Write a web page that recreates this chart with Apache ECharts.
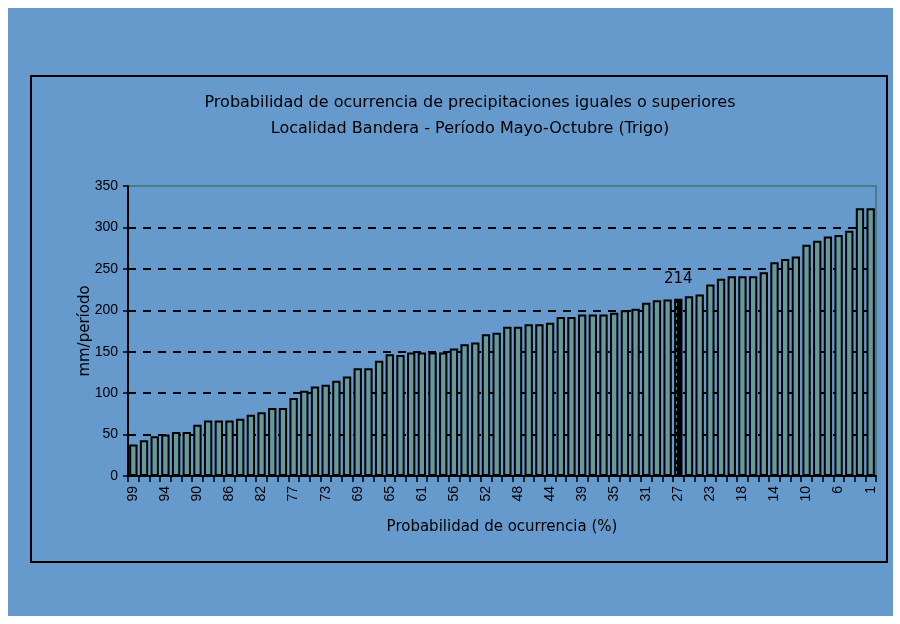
<!DOCTYPE html>
<html>
<head>
<meta charset="utf-8">
<script src="https://cdn.jsdelivr.net/npm/echarts@6/dist/echarts.min.js"></script>
<style>
  html, body { margin: 0; padding: 0; background: #ffffff; }
  #wrap { position: relative; width: 900px; height: 624px; }
  #blue { position: absolute; left: 8px; top: 8px; width: 885px; height: 608px; background: #6699cc; }
  #chart { position: absolute; left: 0; top: 0; width: 900px; height: 624px; }
</style>
</head>
<body>
<div id="wrap">
  <div id="blue"></div>
  <div id="chart"></div>
</div>
<script>
// probability of occurrence (%), one per ordered year
const categories = [
  "99", "97", "96", "94", "93", "92", "90", "89", "87", "86",
  "85", "83", "82", "80", "79", "77", "76", "75", "73", "72",
  "70", "69", "68", "66", "65", "63", "62", "61", "59", "58",
  "56", "55", "54", "52", "51", "49", "48", "46", "45", "44",
  "42", "41", "39", "38", "37", "35", "34", "32", "31", "30",
  "28", "27", "25", "24", "23", "21", "20", "18", "17", "15",
  "14", "13", "11", "10", "8", "7", "6", "4", "3", "1"
];
// mm per period
const rainfall = [
  38, 43, 48, 50, 53, 53, 62, 67, 67, 67,
  69, 74, 77, 82, 82, 94, 103, 108, 110, 115,
  120, 130, 130, 139, 147, 146, 149, 149, 149, 149,
  154, 159, 161, 171, 173, 180, 180, 183, 183, 185,
  192, 192, 195, 195, 195, 197, 200, 202, 209, 212,
  213, 214, 217, 219, 231, 238, 241, 241, 241, 246,
  258, 262, 265, 279, 284, 289, 291, 296, 323, 323
];
const highlightCategory = "27";
const yTicks = [0, 50, 100, 150, 200, 250, 300, 350];

const font = '"Liberation Sans", Arial, sans-serif';
const wideFont = '"DejaVu Sans", Verdana, sans-serif';
const barColor = "#669999";

// dotted fill for the highlighted bar
const pc = document.createElement("canvas");
pc.width = 10;
pc.height = 7;
const pctx = pc.getContext("2d");
pctx.fillStyle = "#000000";
pctx.fillRect(0, 0, 10, 7);
pctx.fillStyle = barColor;
pctx.fillRect(3, 2, 4, 3);

const seriesData = rainfall.map((v, i) => {
  if (categories[i] !== highlightCategory) return v;
  return {
    value: v,
    itemStyle: { color: { image: pc, repeat: "repeat" } },
    label: {
      show: true,
      position: "top",
      distance: 12,
      color: "#000",
      fontSize: 15,
      fontFamily: wideFont
    }
  };
});

const chart = echarts.init(document.getElementById("chart"));
chart.setOption({
  backgroundColor: "transparent",
  animation: false,
  title: {
    text: "Probabilidad de ocurrencia de precipitaciones iguales o superiores\nLocalidad Bandera - Período Mayo-Octubre (Trigo)",
    left: 465,
    top: 85,
    textAlign: "center",
    textStyle: {
      fontFamily: wideFont,
      fontSize: 16,
      fontWeight: "normal",
      color: "#000",
      lineHeight: 26
    }
  },
  graphic: [
    {
      type: "rect",
      shape: { x: 31, y: 76, width: 856, height: 486 },
      style: { fill: "none", stroke: "#000", lineWidth: 2 },
      z: 0
    }
  ],
  grid: {
    left: 128,
    right: 24,
    top: 186,
    bottom: 148,
    show: true,
    borderColor: "#3f7575",
    borderWidth: 1.5,
    backgroundColor: "transparent"
  },
  xAxis: {
    type: "category",
    data: categories,
    name: "Probabilidad de ocurrencia (%)",
    nameLocation: "middle",
    nameGap: 44,
    nameMoveOverlap: false,
    nameTextStyle: { fontFamily: wideFont, fontSize: 15, color: "#000" },
    axisLine: { lineStyle: { color: "#000", width: 2 } },
    axisTick: { show: true, interval: 0, length: 6, lineStyle: { color: "#000", width: 1.5 } },
    axisLabel: {
      interval: 2,
      rotate: 90,
      margin: 10,
      fontFamily: font,
      fontSize: 14,
      color: "#000"
    },
    splitLine: { show: false }
  },
  yAxis: {
    type: "value",
    min: 0,
    max: 350,
    interval: 50,
    name: "mm/período",
    nameLocation: "middle",
    nameGap: 35,
    nameMoveOverlap: false,
    nameTextStyle: { fontFamily: wideFont, fontSize: 15, color: "#000" },
    axisLine: { show: true, lineStyle: { color: "#000", width: 2 } },
    axisTick: { show: true, length: 5, lineStyle: { color: "#000", width: 1.5 } },
    axisLabel: {
      margin: 10,
      fontFamily: font,
      fontSize: 14,
      color: "#000",
      formatter: v => (yTicks.includes(v) ? String(v) : "")
    },
    splitLine: {
      show: true,
      showMinLine: false,
      showMaxLine: false,
      lineStyle: { color: "#000", width: 2, type: [8, 7] }
    }
  },
  series: [
    {
      type: "bar",
      data: seriesData,
      barCategoryGap: "22%",
      itemStyle: {
        color: barColor,
        borderColor: "#000",
        borderWidth: 2
      }
    }
  ]
});
</script>
</body>
</html>
